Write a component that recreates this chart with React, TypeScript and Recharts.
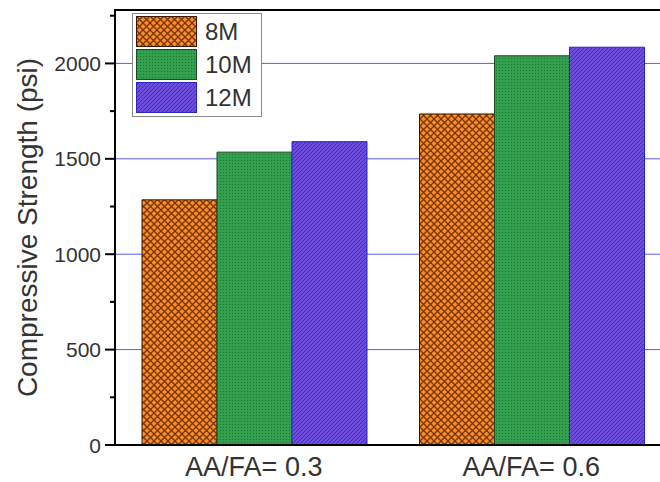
import { BarChart, Bar, XAxis, YAxis, CartesianGrid, Legend } from 'recharts';

const CATEGORIES = ['AA/FA= 0.3', 'AA/FA= 0.6'];
const SERIES_8M = [1285, 1735];
const SERIES_10M = [1535, 2040];
const SERIES_12M = [1590, 2085];
const Y_TICKS = [0, 250, 500, 750, 1000, 1250, 1500, 1750, 2000, 2250];
const Y_GRID = [500, 1000, 1500, 2000];
const Y_MAX = 2280;

const FONT = '"Liberation Sans", Arial, sans-serif';
const TEXT = '#333';

const SERIES = [
  { key: 'm8', name: '8M', fill: 'url(#pat8)', stroke: '#3a1804' },
  { key: 'm10', name: '10M', fill: 'url(#pat10)', stroke: '#1c4a26' },
  { key: 'm12', name: '12M', fill: 'url(#pat12)', stroke: '#2626c8' },
];

const data = CATEGORIES.map((name, i) => ({
  name,
  m8: SERIES_8M[i],
  m10: SERIES_10M[i],
  m12: SERIES_12M[i],
}));

function YTick({ x, y, payload }: any) {
  const v = payload.value;
  const major = v % 500 === 0;
  return (
    <g>
      <line x1={x - (major ? 10 : 5)} x2={x} y1={y} y2={y} stroke="#000" strokeWidth={2} />
      {major && (
        <text x={x - 14} y={y} dy="0.36em" textAnchor="end" fontSize={21} fill={TEXT} fontFamily={FONT}>
          {v}
        </text>
      )}
    </g>
  );
}

function YLabel({ viewBox }: any) {
  const cx = viewBox.x + 27;
  const cy = viewBox.y + viewBox.height / 2;
  return (
    <text
      x={cx}
      y={cy}
      dy="0.36em"
      textAnchor="middle"
      transform={`rotate(-90 ${cx} ${cy})`}
      fontSize={28}
      fill={TEXT}
      fontFamily={FONT}
    >
      Compressive Strength (psi)
    </text>
  );
}

function LegendBox() {
  return (
    <div
      style={{
        width: 130,
        height: 104,
        boxSizing: 'border-box',
        border: '1px solid #8a8a8a',
        background: '#fff',
        padding: '2px 3px',
      }}
    >
      {SERIES.map((s) => (
        <div key={s.key} style={{ display: 'flex', alignItems: 'center', height: 31, marginBottom: 2 }}>
          <svg width={61} height={31} style={{ display: 'block' }}>
            <rect x={0.5} y={0.5} width={60} height={30} fill={s.fill} stroke={s.stroke} />
          </svg>
          <span style={{ marginLeft: 8, fontSize: 24, color: TEXT, fontFamily: FONT, lineHeight: '31px' }}>
            {s.name}
          </span>
        </div>
      ))}
    </div>
  );
}

export default function App() {
  return (
    <div style={{ position: 'fixed', left: 0, top: 0, width: 660, height: 482, overflow: 'hidden', background: '#fff' }}>
      <BarChart
        width={680}
        height={482}
        data={data}
        margin={{ top: 10, right: 10, left: 0, bottom: 0 }}
        barCategoryGap={27}
        barGap={0}
      >
        <defs>
          <pattern id="pat8" width={7} height={7} patternUnits="userSpaceOnUse">
            <rect width={7} height={7} fill="#f78f28" />
            <path d="M0,0 L7,7 M7,0 L0,7" stroke="#7a3306" strokeWidth={1.3} />
          </pattern>
          <pattern id="pat10" width={3} height={3} patternUnits="userSpaceOnUse">
            <rect width={3} height={3} fill="#33a04e" />
            <circle cx={1.5} cy={1.5} r={0.6} fill="#1f6e35" />
          </pattern>
          <pattern id="pat12" width={4} height={4} patternUnits="userSpaceOnUse">
            <rect width={4} height={4} fill="#6c4ddc" />
            <path d="M0,4 L4,0 M-1,1 L1,-1 M3,5 L5,3" stroke="#4a2bb8" strokeWidth={1} />
          </pattern>
        </defs>
        <CartesianGrid vertical={false} horizontalValues={Y_GRID} stroke="#5c5ce6" strokeWidth={1} />
        <XAxis
          dataKey="name"
          tickLine={false}
          tickSize={0}
          tickMargin={12}
          height={37}
          axisLine={{ stroke: '#000', strokeWidth: 2 }}
          tick={{ fontSize: 27, fill: TEXT, fontFamily: FONT }}
        />
        <YAxis
          width={115}
          domain={[0, Y_MAX]}
          ticks={Y_TICKS}
          interval={0}
          tickLine={false}
          tickSize={0}
          tickMargin={0}
          axisLine={{ stroke: '#000', strokeWidth: 2 }}
          tick={<YTick />}
          label={{ content: (p: any) => <YLabel viewBox={p.viewBox} /> }}
        />
        <Legend
          layout="vertical"
          align="center"
          verticalAlign="middle"
          wrapperStyle={{ left: 132, top: 13, width: 130, height: 104 }}
          content={() => <LegendBox />}
        />
        {SERIES.map((s) => (
          <Bar
            key={s.key}
            dataKey={s.key}
            name={s.name}
            fill={s.fill}
            stroke={s.stroke}
            strokeWidth={1}
            isAnimationActive={false}
          />
        ))}
      </BarChart>
      {/* top frame line of the plot box (ReferenceLine at the domain edge rendered unreliably) */}
      <div style={{ position: 'absolute', left: 114, top: 9, width: 560, height: 2, background: '#000' }} />
    </div>
  );
}
